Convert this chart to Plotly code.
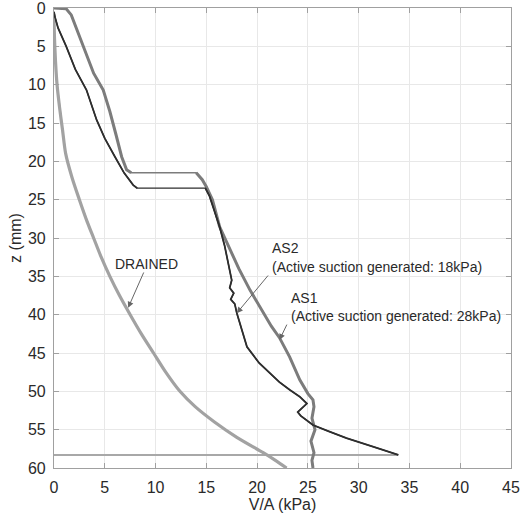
import plotly.graph_objects as go

# ---- data (V/A in kPa, z in mm) ----
drained_va = [0, 0.05, 0.15, 0.3, 0.55, 0.85, 1.15, 1.75, 2.5, 3.3, 3.9, 4.65, 5.5, 6.45,
              7.5, 8.6, 9.8, 11.0, 12.4, 13.9, 15.8, 18.0, 20.6, 21.8, 22.9]
drained_z = [1.5, 4, 7, 10, 13, 16, 19, 22, 25, 28, 30, 32.5, 35, 37.5,
             40, 42.5, 45, 47.5, 50, 52, 54, 56, 58, 59, 60]

as1_va = [0, 1.2, 1.7, 2.3, 3.0, 3.9, 4.85, 5.5, 6.1, 6.66, 7.15, 7.6,
          14.0, 14.6, 15.0, 15.6, 16.3, 17.2, 18.2, 19.3, 20.5, 21.4, 22.2, 23.2, 24.2,
          25.0, 25.5, 25.6, 25.4, 25.7, 25.3, 25.6, 25.4, 25.5]
as1_z = [0, 0.1, 0.9, 3, 5.5, 8.5, 10.7, 13.5, 16.5, 19.4, 21.1, 21.5,
         21.5, 22.4, 23.3, 25, 28.5, 31, 34, 36.8, 39.5, 41.5, 43.0, 45.5, 48.5,
         50.3, 51.1, 52, 53.5, 55, 56.5, 58, 59, 60]

as2_va = [0, 0.1, 0.4, 1.2, 2.1, 3.2, 4.2, 5.0, 6.0, 6.9, 7.8, 8.2,
          14.9, 15.3, 15.8, 16.3, 16.8, 17.2, 17.5, 17.3, 17.7, 17.4, 17.8, 18.0, 18.5,
          19.0, 20.2, 21.6, 22.2, 23.2, 24.2, 24.9, 24.0, 24.3, 25.5, 27.0, 28.8, 31.4, 33.9]
as2_z = [0.5, 1.2, 2.6, 5, 8, 10.7, 14.6, 17, 19.4, 21.5, 23.1, 23.5,
         23.5, 24.5, 26.5, 28.5, 31, 33.5, 35.5, 36.5, 37.2, 38, 38.6, 39.8, 42,
         44.2, 46.3, 48.1, 48.8, 49.8, 50.7, 51.6, 52.7, 53.2, 54.4, 55.2, 56.1, 57.2, 58.3]

unload_va = [33.9, 0]
unload_z = [58.3, 58.3]

x_ticks = [0, 5, 10, 15, 20, 25, 30, 35, 40, 45]
z_ticks = [0, 5, 10, 15, 20, 25, 30, 35, 40, 45, 50, 55, 60]

FONT = "Liberation Sans, Arial, sans-serif"


def plateau_index(z):
    for i in range(len(z) - 1):
        if z[i] == z[i + 1]:
            return i
    return None


fig = go.Figure()


def add_curve(xs, zs, color, thick, thin, smooth=False):
    # thin line through everything (plateau jump), thick over the measured parts
    fig.add_trace(go.Scatter(x=xs, y=zs, mode="lines", line=dict(color=color, width=thin),
                             hoverinfo="skip", showlegend=False))
    k = plateau_index(zs)
    parts = [(0, len(xs))] if k is None else [(0, k + 1), (k + 1, len(xs))]
    line = dict(color=color, width=thick)
    if smooth:
        line.update(shape="spline", smoothing=0.8)
    for a, b in parts:
        fig.add_trace(go.Scatter(x=xs[a:b], y=zs[a:b], mode="lines", line=line,
                                 hoverinfo="skip", showlegend=False))


fig.add_trace(go.Scatter(x=unload_va, y=unload_z, mode="lines",
                         line=dict(color="#a8a8a8", width=2), showlegend=False))
add_curve(drained_va, drained_z, "#a2a2a2", 3.2, 1.5, smooth=True)
add_curve(as1_va, as1_z, "#7c7c7c", 3.0, 1.5)
add_curve(as2_va, as2_z, "#2e2e2e", 1.8, 1.3)

ann_font = dict(family=FONT, size=14, color="#2a2a2a")
arrow = dict(showarrow=True, arrowhead=2, arrowsize=1.2, arrowwidth=1,
             arrowcolor="#666666", axref="x", ayref="y", xref="x", yref="y", text="")

fig.add_annotation(x=9.06, y=33.4, text="DRAINED", showarrow=False, font=ann_font,
                   xanchor="center", yanchor="middle")
fig.add_annotation(x=7.3, y=39.1, ax=8.9, ay=34.3, **arrow)

fig.add_annotation(x=21.3, y=31.3, text="AS2", showarrow=False, font=ann_font,
                   xanchor="left", yanchor="middle")
fig.add_annotation(x=21.3, y=33.8, text="(Active suction generated: 18kPa)", showarrow=False,
                   font=ann_font, xanchor="left", yanchor="middle")
fig.add_annotation(x=18.0, y=39.8, ax=21.2, ay=34.7, **arrow)

fig.add_annotation(x=23.1, y=37.8, text="AS1", showarrow=False, font=ann_font,
                   xanchor="left", yanchor="middle")
fig.add_annotation(x=23.1, y=40.2, text="(Active suction generated: 28kPa)", showarrow=False,
                   font=ann_font, xanchor="left", yanchor="middle")
fig.add_annotation(x=22.2, y=43.3, ax=23.0, ay=41.1, **arrow)

axis_common = dict(showgrid=True, gridcolor="#e8e8e8", gridwidth=1,
                   showline=True, linecolor="#a0a0a0", linewidth=1.2, mirror="ticks",
                   ticks="inside", ticklen=5, tickcolor="#a0a0a0",
                   tickfont=dict(family=FONT, size=16, color="#2a2a2a"),
                   zeroline=False, automargin=False, ticklabeloverflow="allow")

fig.update_xaxes(range=[0, 45], tickvals=x_ticks, ticktext=[str(v) for v in x_ticks],
                 title=dict(text="V/A (kPa)", font=dict(family=FONT, size=16, color="#2a2a2a"),
                            standoff=1),
                 ticklabelstandoff=5, **axis_common)
fig.update_yaxes(range=[60, 0], tickvals=z_ticks, ticktext=[str(v) for v in z_ticks],
                 title=dict(text="z (mm)", font=dict(family=FONT, size=16, color="#2a2a2a"),
                            standoff=2),
                 ticklabelstandoff=4, **axis_common)

fig.update_layout(width=528, height=521, margin=dict(l=54, r=17, t=8, b=53, autoexpand=False),
                  plot_bgcolor="white", paper_bgcolor="white", showlegend=False)

fig.write_html("out.html", config={"displayModeBar": False},
               post_script="document.body.style.margin='0px';document.body.style.overflow='hidden';")
